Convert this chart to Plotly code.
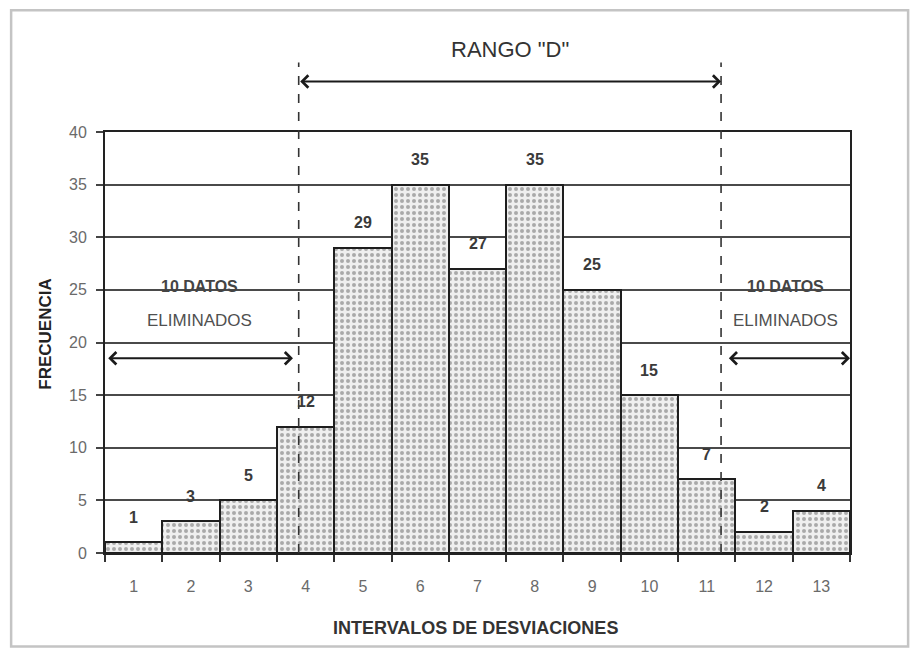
import plotly.graph_objects as go

# Frequency per deviation interval
intervalos = ["1", "2", "3", "4", "5", "6", "7", "8", "9", "10", "11", "12", "13"]
frecuencia = [1, 3, 5, 12, 29, 35, 27, 35, 25, 15, 7, 2, 4]
y_ticks = [0, 5, 10, 15, 20, 25, 30, 35, 40]

# Range limits (in category-index units) and the trimmed tails
rango_lim = [2.88, 10.25]
tail_left = [-0.47, 2.78]
tail_right = [10.36, 12.5]

FONT = "Arial, Liberation Sans"

fig = go.Figure()
fig.add_trace(go.Bar(
    x=intervalos,
    y=frecuencia,
    width=1.0,
    marker=dict(
        color="#efefef",
        line=dict(color="#1e1e1e", width=2),
        pattern=dict(shape=".", fgcolor="#646464", bgcolor="#efefef",
                     size=6, solidity=0.35),
    ),
    hoverinfo="skip",
))

annotations = []
# value labels above each bar
for i, v in enumerate(frecuencia):
    annotations.append(dict(
        x=i, y=v, xref="x", yref="y", text=f"<b>{v}</b>", showarrow=False,
        yshift=25, font=dict(family=FONT, size=16, color="#3a3a3a"),
    ))

arrow_style = dict(showarrow=True, arrowhead=4, arrowside="end+start",
                   arrowsize=1.2, arrowwidth=2, arrowcolor="#1a1a1a",
                   standoff=0, startstandoff=0, text="")

# range arrow across the top
annotations.append(dict(x=rango_lim[1], y=1.12, xref="x", yref="paper",
                        ax=rango_lim[0], ay=0, axref="x", ayref="pixel", **arrow_style))
annotations.append(dict(x=(rango_lim[0] + rango_lim[1]) / 2, y=1.195, xref="x", yref="paper",
                        yanchor="middle", text='RANGO "D"', showarrow=False,
                        font=dict(family=FONT, size=22, color="#333333")))

# trimmed-tail arrows and labels
for lo, hi in (tail_left, tail_right):
    annotations.append(dict(x=hi, y=18.5, xref="x", yref="y",
                            ax=lo, ay=0, axref="x", ayref="pixel", **arrow_style))
cx_left = (tail_left[0] + tail_left[1]) / 2
cx_right = (tail_right[0] + tail_right[1]) / 2 - 0.05
for cx in (cx_left, cx_right):
    annotations.append(dict(x=cx, y=25.3, xref="x", yref="y", text="<b>10 DATOS</b>",
                            showarrow=False,
                            font=dict(family=FONT, size=16, color="#444444")))
    annotations.append(dict(x=cx, y=22.1, xref="x", yref="y", text="ELIMINADOS",
                            showarrow=False,
                            font=dict(family=FONT, size=17, color="#505050")))

# axis titles
annotations.append(dict(x=-0.081, y=0.52, xref="paper", yref="paper", text="<b>FRECUENCIA</b>",
                        xanchor="center", yanchor="middle",
                        textangle=-90, showarrow=False,
                        font=dict(family=FONT, size=17, color="#222222")))
annotations.append(dict(x=0.497, y=-0.178, xref="paper", yref="paper",
                        xanchor="center", yanchor="middle",
                        text="<b>INTERVALOS DE DESVIACIONES</b>", showarrow=False,
                        font=dict(family=FONT, size=18, color="#333333")))

shapes = []
# dashed range limits
for xv in rango_lim:
    shapes.append(dict(type="line", xref="x", yref="paper", x0=xv, x1=xv, y0=0, y1=1.165,
                       line=dict(color="#333333", width=1.6, dash="dash"), layer="above"))
# outer frame
shapes.append(dict(type="rect", xref="paper", yref="paper", x0=-0.126, x1=1.078,
                   y0=-0.222, y1=1.289, line=dict(color="#c4c4c4", width=2.5), layer="below"))

fig.update_layout(
    width=911, height=648,
    margin=dict(l=105, r=61, t=132, b=95),
    paper_bgcolor="white", plot_bgcolor="white",
    showlegend=False,
    bargap=0,
    annotations=annotations,
    shapes=shapes,
    xaxis=dict(
        type="category", range=[-0.5, 12.5], tickson="boundaries",
        ticks="outside", ticklen=7, tickwidth=1.5, tickcolor="#333333",
        showline=True, linecolor="#222222", linewidth=2, mirror=True,
        showgrid=False, zeroline=False,
        tickfont=dict(family=FONT, size=16, color="#6a6a6a"),
        ticklabelstandoff=18,
    ),
    yaxis=dict(
        range=[0, 40], tickvals=y_ticks,
        ticks="outside", ticklen=7, tickwidth=1.5, tickcolor="#444444",
        showline=True, linecolor="#222222", linewidth=2, mirror=True,
        showgrid=True, gridcolor="#4a4a4a", gridwidth=1.6, zeroline=False,
        tickfont=dict(family=FONT, size=16, color="#6a6a6a"),
        ticklabelstandoff=6,
    ),
)

fig.write_html("out.html")
